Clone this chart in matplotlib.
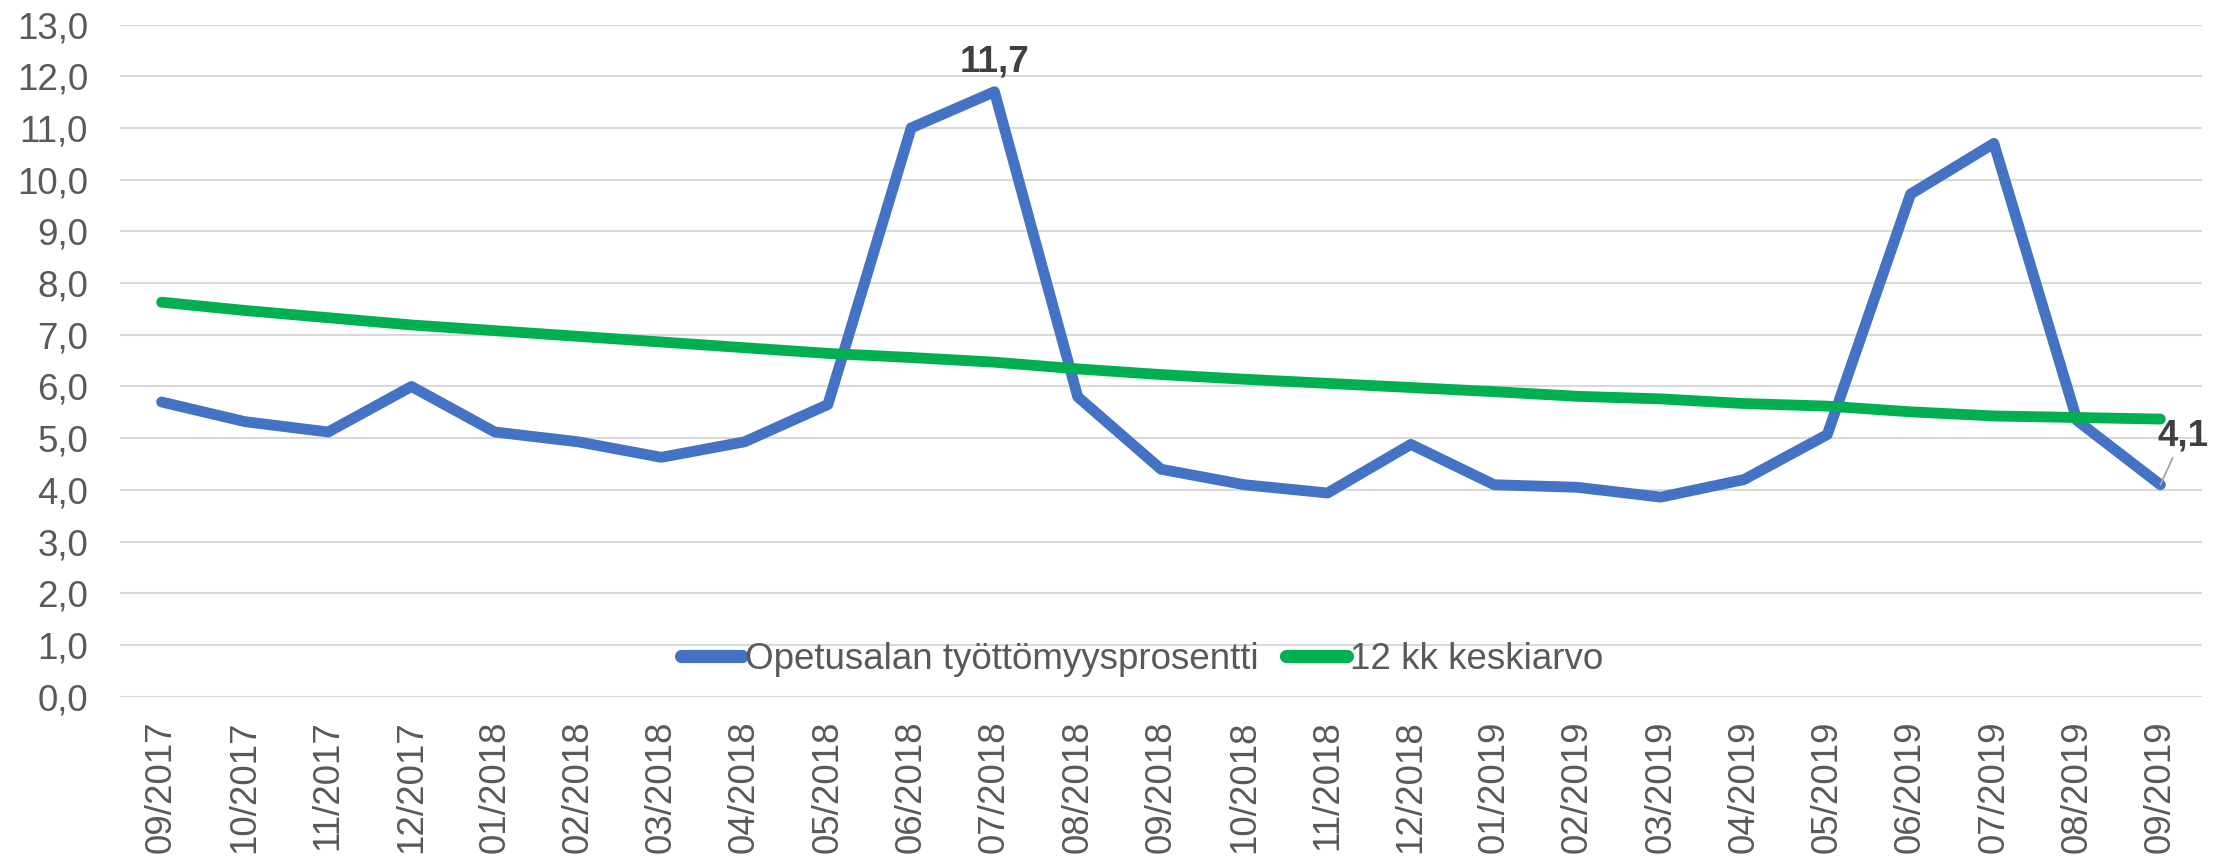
import numpy as np
import matplotlib.pyplot as plt

plt.rcParams['font.family'] = ['Liberation Sans', 'DejaVu Sans']

months = ['09/2017', '10/2017', '11/2017', '12/2017', '01/2018', '02/2018', '03/2018',
          '04/2018', '05/2018', '06/2018', '07/2018', '08/2018', '09/2018', '10/2018',
          '11/2018', '12/2018', '01/2019', '02/2019', '03/2019', '04/2019', '05/2019',
          '06/2019', '07/2019', '08/2019', '09/2019']
tyottomyys = [5.70, 5.32, 5.12, 6.00, 5.12, 4.93, 4.63, 4.93, 5.65, 11.0, 11.7, 5.80,
              4.40, 4.10, 3.94, 4.88, 4.10, 4.05, 3.86, 4.20, 5.07, 9.72, 10.7, 5.34, 4.10]
keskiarvo = [7.63, 7.47, 7.33, 7.19, 7.08, 6.97, 6.86, 6.75, 6.64, 6.56, 6.47, 6.34,
             6.23, 6.14, 6.06, 5.98, 5.90, 5.81, 5.76, 5.67, 5.62, 5.51, 5.43, 5.40, 5.37]
yticks = np.arange(0, 14, 1)

blue = '#4472c4'
green = '#00b050'
gray = '#595959'
fs = 26.5

fig = plt.figure(figsize=(22.34, 8.57), dpi=100)
ax = fig.add_axes([0.0537, 0.187, 0.9320, 0.7844])

x = np.arange(len(months))
ax.plot(x, tyottomyys, color=blue, lw=7.8, solid_capstyle='round',
        solid_joinstyle='round', label='Opetusalan työttömyysprosentti', zorder=3)
ax.plot(x, keskiarvo, color=green, lw=7.8, solid_capstyle='round',
        solid_joinstyle='round', label='12 kk keskiarvo', zorder=3)

ax.set_xlim(-0.5, len(months) - 0.5)
ax.set_ylim(0, 13)
ax.set_yticks(yticks)
ax.set_yticklabels([f"{v:.1f}".replace('.', ',') for v in yticks])
ax.set_xticks(x)
ax.set_xticklabels(months, rotation=90)
ax.tick_params(axis='both', length=0, labelsize=fs, colors=gray)
ax.tick_params(axis='y', pad=23)
ax.tick_params(axis='x', pad=17)
for s in ax.spines.values():
    s.set_visible(False)
ax.yaxis.grid(True, color='#d9d9d9', lw=1.5)
ax.set_axisbelow(True)

# data labels
i_max = int(np.argmax(tyottomyys))
ax.annotate(f"{tyottomyys[i_max]:.1f}".replace('.', ','), (x[i_max], tyottomyys[i_max]),
            xytext=(0, 9), textcoords='offset points', ha='center', va='bottom',
            fontsize=fs, fontweight='bold', color='#404040')
ax.annotate(f"{tyottomyys[-1]:.1f}".replace('.', ','), (x[-1], tyottomyys[-1]),
            xytext=(16, 35), textcoords='offset points', ha='center', va='center',
            fontsize=fs, fontweight='bold', color='#404040', annotation_clip=False,
            arrowprops=dict(arrowstyle='-', color='#a6a6a6', lw=1.3,
                            shrinkA=1, shrinkB=0))

leg = ax.legend(loc='center', bbox_to_anchor=(0.491, 0.056), ncol=2, frameon=False,
                fontsize=fs, handlelength=1.65, handletextpad=0.08, columnspacing=0.75)
for t in leg.get_texts():
    t.set_color(gray)
for h in leg.get_lines():
    h.set_linewidth(9.5)

fig.savefig('out.png', dpi=100, facecolor='white')
